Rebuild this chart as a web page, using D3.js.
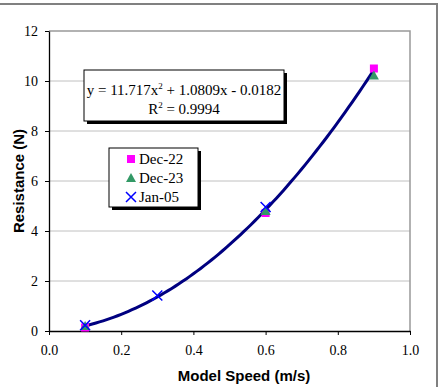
<!DOCTYPE html>
<html>
<head>
<meta charset="utf-8">
<script src="https://cdn.jsdelivr.net/npm/d3@7"></script>
<style>
  body { margin: 0; background: #fff; }
</style>
</head>
<body>
<div id="graphic"></div>
<script>
// resistance vs model speed, three test runs plus quadratic fit
const dec22X = [0.1, 0.6, 0.9];
const dec22Y = [0.14, 4.72, 10.5];
const dec23X = [0.1, 0.6, 0.9];
const dec23Y = [0.2, 4.8, 10.22];
const jan05X = [0.1, 0.3, 0.6];
const jan05Y = [0.23, 1.42, 4.96];
const fitCoef = [11.717, 1.0809, -0.0182];
const xTicks = [0, 0.2, 0.4, 0.6, 0.8, 1.0];
const yTicks = [0, 2, 4, 6, 8, 10, 12];
const seriesNames = ["Dec-22", "Dec-23", "Jan-05"];

const W = 441, H = 387;
const margin = { left: 49, right: 31, top: 31, bottom: 56 };
const serif = "Liberation Serif, Times New Roman, serif";
const sans = "Liberation Sans, Arial, sans-serif";

const svg = d3.select("#graphic").append("svg")
  .attr("width", W).attr("height", H);

// outer chart frame (top + right only show)
svg.append("path")
  .attr("d", `M0,4 H437 V${H}`)
  .attr("fill", "none").attr("stroke", "#808080").attr("stroke-width", 2);

const x = d3.scaleLinear().domain([0, 1]).range([margin.left, W - margin.right]);
const y = d3.scaleLinear().domain([0, 12]).range([H - margin.bottom, margin.top]);

// grid
svg.append("g")
  .selectAll("line")
  .data(yTicks.filter(d => d > 0 && d < 12))
  .enter().append("line")
  .attr("x1", x(0)).attr("x2", x(1))
  .attr("y1", d => y(d)).attr("y2", d => y(d))
  .attr("stroke", "#c0c0c0").attr("stroke-width", 1);

// plot border top/right
svg.append("path")
  .attr("d", `M${x(0)},${y(12)} H${x(1)} V${y(0)}`)
  .attr("fill", "none").attr("stroke", "#999").attr("stroke-width", 1.5);

const xAxis = d3.axisBottom(x).tickValues(xTicks).tickFormat(d3.format(".1f"))
  .tickSizeInner(4).tickSizeOuter(0).tickPadding(10);
const yAxis = d3.axisLeft(y).tickValues(yTicks)
  .tickSizeInner(4).tickSizeOuter(0).tickPadding(7);

function styleAxis(g) {
  g.attr("font-family", serif).attr("font-size", 14);
  g.select(".domain").attr("stroke", "#000").attr("stroke-width", 1.3);
  g.selectAll(".tick text").attr("fill", "#000");
}

svg.append("g").attr("transform", `translate(0,${y(0)})`).call(xAxis).call(styleAxis);
svg.append("g").attr("transform", `translate(${x(0)},0)`).call(yAxis).call(styleAxis);

// axis titles
svg.append("text")
  .attr("x", 244).attr("y", 381)
  .attr("text-anchor", "middle")
  .attr("font-family", sans)
  .attr("font-weight", "bold").attr("font-size", 15)
  .text("Model Speed (m/s)");

svg.append("text")
  .attr("transform", "translate(24,181) rotate(-90)")
  .attr("text-anchor", "middle")
  .attr("font-family", sans)
  .attr("font-weight", "bold").attr("font-size", 15)
  .text("Resistance (N)");

// trend line
const fitX = d3.range(0.1, 0.9001, 0.01);
const line = d3.line()
  .x(d => x(d))
  .y(d => y(fitCoef[0] * d * d + fitCoef[1] * d + fitCoef[2]));
svg.append("path")
  .datum(fitX)
  .attr("d", line)
  .attr("fill", "none").attr("stroke", "#000080").attr("stroke-width", 3);

// markers
const squares = d3.range(dec22X.length).map(i => ({ x: dec22X[i], y: dec22Y[i] }));
const triangles = d3.range(dec23X.length).map(i => ({ x: dec23X[i], y: dec23Y[i] }));
const crosses = d3.range(jan05X.length).map(i => ({ x: jan05X[i], y: jan05Y[i] }));

function drawSquare(g, cx, cy) {
  g.append("rect").attr("x", cx - 4).attr("y", cy - 4)
    .attr("width", 8).attr("height", 8).attr("fill", "#ff00ff");
}
function drawTriangle(g, cx, cy) {
  g.append("path")
    .attr("d", `M${cx},${cy - 5} L${cx + 5},${cy + 4} L${cx - 5},${cy + 4} Z`)
    .attr("fill", "#339966");
}
function drawCross(g, cx, cy) {
  g.append("path")
    .attr("d", `M${cx - 5},${cy - 5} L${cx + 5},${cy + 5} M${cx + 5},${cy - 5} L${cx - 5},${cy + 5}`)
    .attr("stroke", "#0000ff").attr("stroke-width", 1.5).attr("fill", "none");
}

const marks = svg.append("g");
squares.forEach(d => drawSquare(marks, x(d.x), y(d.y)));
triangles.forEach(d => drawTriangle(marks, x(d.x), y(d.y)));
crosses.forEach(d => drawCross(marks, x(d.x), y(d.y)));

// equation box
const eq = svg.append("g");
eq.append("rect").attr("x", 87).attr("y", 73).attr("width", 200).attr("height", 51).attr("fill", "#000");
eq.append("rect").attr("x", 84).attr("y", 70).attr("width", 200).attr("height", 51)
  .attr("fill", "#fff").attr("stroke", "#000").attr("stroke-width", 1);
const eqText = eq.append("text")
  .attr("x", 184).attr("y", 95).attr("text-anchor", "middle")
  .attr("font-family", serif).attr("font-size", 15);
eqText.append("tspan").text(`y = ${fitCoef[0]}x`);
eqText.append("tspan").attr("dy", -6).attr("font-size", 9).text("2");
eqText.append("tspan").attr("dy", 6).text(` + ${fitCoef[1]}x - ${Math.abs(fitCoef[2])}`);
const r2 = eq.append("text")
  .attr("x", 184).attr("y", 114).attr("text-anchor", "middle")
  .attr("font-family", serif).attr("font-size", 15);
r2.append("tspan").text("R");
r2.append("tspan").attr("dy", -6).attr("font-size", 9).text("2");
r2.append("tspan").attr("dy", 6).text(" = 0.9994");

// legend
const lg = svg.append("g");
lg.append("rect").attr("x", 112).attr("y", 151).attr("width", 89).attr("height", 59).attr("fill", "#000");
lg.append("rect").attr("x", 109).attr("y", 148).attr("width", 89).attr("height", 59)
  .attr("fill", "#fff").attr("stroke", "#000").attr("stroke-width", 1);
const drawers = [drawSquare, drawTriangle, drawCross];
seriesNames.forEach((name, i) => {
  const cy = 159 + i * 19;
  drawers[i](lg, 131, cy);
  lg.append("text").attr("x", 139).attr("y", cy + 5)
    .attr("font-family", serif).attr("font-size", 15)
    .text(name);
});
</script>
</body>
</html>
